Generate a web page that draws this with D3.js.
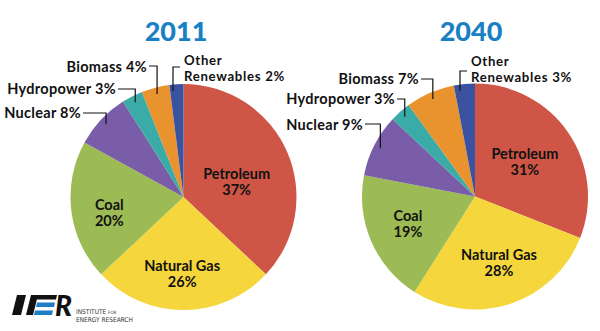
<!DOCTYPE html>
<html><head><meta charset="utf-8">
<script src="https://cdn.jsdelivr.net/npm/d3@7"></script>
<style>body{margin:0;background:#fff}svg{display:block}</style>
</head><body><svg id="c" width="600" height="331"></svg>
<script>
// ---- data ----
const categories = ["Petroleum","Natural Gas","Coal","Nuclear","Hydropower","Biomass","Other Renewables"];
const years = ["2011","2040"];
const values2011 = [37,26,20,8,3,4,2];
const values2040 = [31,28,19,9,3,7,3];
const sliceColors = ["#cf5646","#f5d63c","#9dbb55","#7a5da8","#3aaba6","#e8932e","#3b52a1"];

// ---- layout (positions only, not data) ----
const pies = [
  {year: years[0], values: values2011, cx:183.5, cy:197, r:113, titleX:176,
   inside: {"Petroleum":[0.49,7],"Natural Gas":[0.67,1],"Coal":[0.67,-4]},
   outside: {
     "Nuclear":   {side:"left", tx:81,  base:[118], elbow:113},
     "Hydropower":{side:"left", tx:116, base:[94],  elbow:89},
     "Biomass":   {side:"left", tx:147, base:[72],  elbow:66},
     "Other Renewables":{side:"right", tx:184, base:[64.5,80.5], elbow:67, ax:173}
   }},
  {year: years[1], values: values2040, cx:475, cy:196.5, r:113, titleX:471,
   inside: {"Petroleum":[0.54,-1],"Natural Gas":[0.62,-2],"Coal":[0.64,1.5]},
   outside: {
     "Nuclear":   {side:"left", tx:363, base:[130], elbow:124},
     "Hydropower":{side:"left", tx:395, base:[104], elbow:99},
     "Biomass":   {side:"left", tx:419, base:[84],  elbow:79},
     "Other Renewables":{side:"right", tx:471, base:[65.5,81.5], elbow:71, ax:460}
   }}
];

const svg = d3.select("#c");
const font = "Lato, 'Open Sans', sans-serif";
const pie = d3.pie().sort(null).value(d => d.v);
const color = d3.scaleOrdinal().domain(categories).range(sliceColors);

pies.forEach(p => {
  const data = categories.map((c,i) => ({c, v: p.values[i]}));
  const arcs = pie(data);
  const arc = d3.arc().innerRadius(0).outerRadius(p.r);
  const g = svg.append("g").attr("transform", `translate(${p.cx},${p.cy})`);

  g.selectAll("path.slice").data(arcs).join("path")
    .attr("class","slice")
    .attr("d", arc)
    .attr("fill", d => color(d.data.c));

  // title
  svg.append("text").attr("x", p.titleX).attr("y", 41)
    .attr("text-anchor","middle")
    .attr("font-family", font).attr("font-weight", 900).attr("font-size", 27)
    .attr("fill", "#1a80c4").text(p.year);

  // inside labels
  arcs.filter(d => p.inside[d.data.c]).forEach(d => {
    const [k, dAng] = p.inside[d.data.c];
    const a = (d.startAngle + d.endAngle)/2 + dAng*Math.PI/180;
    const x = Math.sin(a)*k*p.r, y = -Math.cos(a)*k*p.r;
    const t = g.append("text").attr("text-anchor","middle")
      .attr("font-family", font).attr("font-weight", 700).attr("font-size", 14.5)
      .attr("fill", "#111");
    t.append("tspan").attr("x", x).attr("y", y - 2).text(d.data.c);
    t.append("tspan").attr("x", x).attr("y", y + 14).text(d.data.v + "%");
  });

  // outside labels with leader lines
  arcs.filter(d => p.outside[d.data.c]).forEach(d => {
    const o = p.outside[d.data.c];
    const a = (d.startAngle + d.endAngle)/2;
    let ax = p.cx + Math.sin(a)*p.r*0.94;
    const ay = p.cy - Math.cos(a)*p.r*0.94;
    if (o.ax !== undefined) ax = o.ax;
    const hx = o.side === "left" ? o.tx + 2 : o.tx - 4;
    svg.append("path")
      .attr("d", `M${ax},${ay}V${o.elbow}H${hx}`)
      .attr("fill","none").attr("stroke","#111").attr("stroke-width",1.2);
    if (o.base.length === 1) {
      svg.append("text")
        .attr("text-anchor", o.side === "left" ? "end" : "start")
        .attr("font-family", font).attr("font-weight", 700).attr("font-size", 14.5)
        .attr("letter-spacing", 0.3).attr("fill", "#111")
        .attr("x", o.tx).attr("y", o.base[0]).text(`${d.data.c} ${d.data.v}%`);
    } else {
      const words = d.data.c.split(" ");
      [words[0], `${words[1]} ${d.data.v}%`].forEach((line, i) => {
        svg.append("text")
          .attr("text-anchor", "start")
          .attr("font-family", font).attr("font-weight", 700).attr("font-size", 13.2)
          .attr("letter-spacing", 0.7).attr("fill", "#111")
          .attr("x", o.tx).attr("y", o.base[i]).text(line);
      });
    }
  });
});

// ---- IER logo ----
const logo = svg.append("g");
const blue = "#1d7fc4";
logo.append("polygon").attr("points","17,295 26,295 21,315 12,315").attr("fill","#111");
logo.append("polygon").attr("points","31,295 38,295 33,315 26,315").attr("fill","#111");
logo.append("polygon").attr("points","33,295 57,295 56,299.5 32,299.5").attr("fill","#111");
logo.append("polygon").attr("points","37,302.5 55,302.5 54,307 36,307").attr("fill",blue);
logo.append("polygon").attr("points","35,310.5 53,310.5 52,315 34,315").attr("fill",blue);
logo.append("text").attr("x",55).attr("y",315.5)
  .attr("font-family", font).attr("font-weight",900).attr("font-style","italic")
  .attr("font-size",28).attr("fill","#111").text("R");
const lt = logo.append("text").attr("font-family","'Liberation Sans Narrow','DejaVu Sans Condensed',sans-serif")
  .attr("font-size",6.5).attr("fill","#333");
lt.append("tspan").attr("x",76).attr("y",314).text("INSTITUTE ");
lt.append("tspan").attr("font-size",4.5).text("FOR");
logo.append("text").attr("x",76).attr("y",321.5)
  .attr("font-family","'Liberation Sans Narrow','DejaVu Sans Condensed',sans-serif")
  .attr("font-size",6.5).attr("fill","#333").text("ENERGY RESEARCH");
</script>
</body></html>
